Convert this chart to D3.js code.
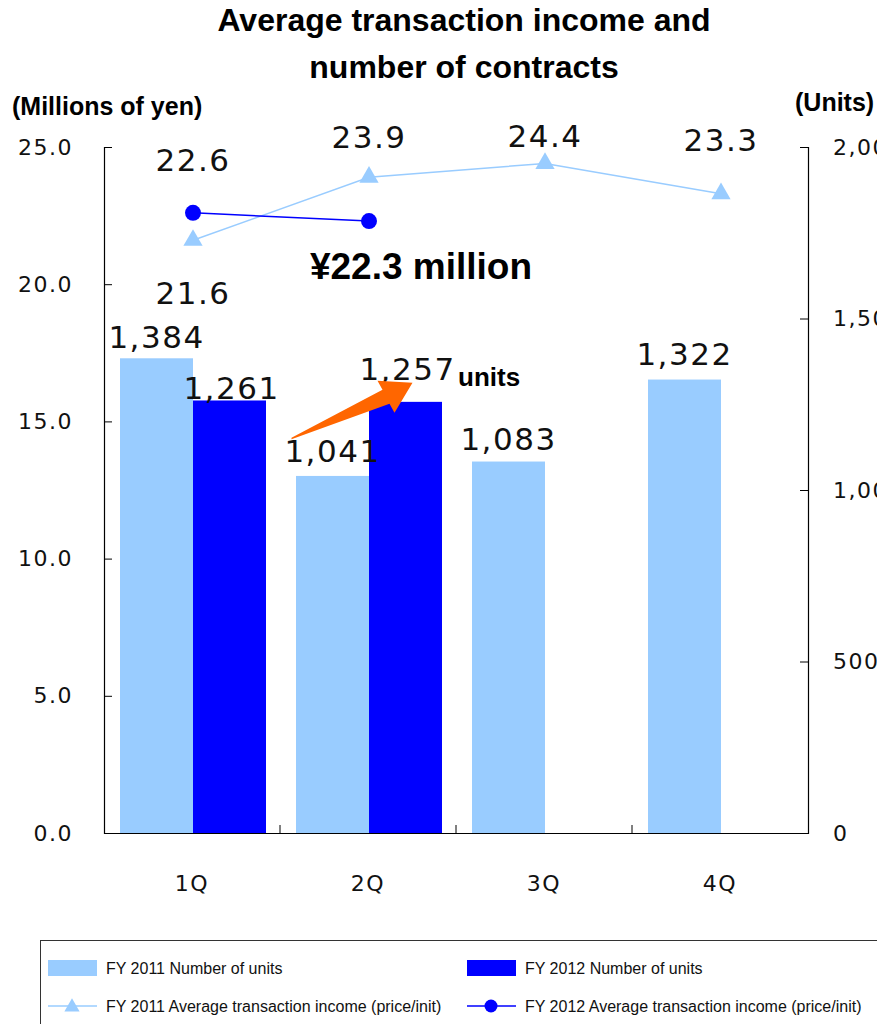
<!DOCTYPE html>
<html>
<head>
<meta charset="utf-8">
<script src="https://cdn.jsdelivr.net/npm/d3@7"></script>
<style>
  body { margin: 0; background: #fff; }
  svg { display: block; }
  .num { font-family: "DejaVu Sans", sans-serif; fill: #111; }
  .bold { font-family: "Liberation Sans", Arial, sans-serif; font-weight: bold; fill: #000; }
  .legend text { font-family: "Liberation Sans", Arial, sans-serif; font-size: 16px; fill: #111; }
</style>
</head>
<body>
<svg id="chart" width="877" height="1024"></svg>
<script>
// data
const quarters = ['1Q', '2Q', '3Q', '4Q'];
const units2011 = [1384, 1041, 1083, 1322];
const units2012 = [1261, 1257, null, null];
const income2011 = [21.6, 23.9, 24.4, 23.3];
const income2012 = [22.6, 22.3, null, null];
const leftTicks = [0, 5, 10, 15, 20, 25];
const rightTicks = [0, 500, 1000, 1500, 2000];

const light = '#99ccff';
const dark = '#0000ff';

const margin = { top: 147, right: 69, bottom: 191, left: 104 };
const width = 877 - margin.left - margin.right;
const height = 1024 - margin.top - margin.bottom;

const svg = d3.select('#chart');
const g = svg.append('g').attr('transform', `translate(${margin.left},${margin.top})`);

const x = d3.scaleBand().domain(quarters).range([0, width]);
const xSub = d3.scaleBand().domain(['2011', '2012']).range([16, 162]);
const yLeft = d3.scaleLinear().domain([0, 25]).range([height, 0]);
const yRight = d3.scaleLinear().domain([0, 2000]).range([height, 0]);
const midX = (q) => x(q) + xSub('2012');

// title
svg.append('text').attr('class', 'bold').attr('x', 464).attr('y', 31)
  .attr('text-anchor', 'middle').style('font-size', '32px').text('Average transaction income and');
svg.append('text').attr('class', 'bold').attr('x', 464).attr('y', 78)
  .attr('text-anchor', 'middle').style('font-size', '32px').text('number of contracts');
svg.append('text').attr('class', 'bold').attr('x', 12).attr('y', 115)
  .style('font-size', '25px').text('(Millions of yen)');
svg.append('text').attr('class', 'bold').attr('x', 795).attr('y', 111)
  .style('font-size', '25px').text('(Units)');

// bars
const bars = g.append('g');
quarters.forEach((q, i) => {
  [['2011', units2011[i], light], ['2012', units2012[i], dark]].forEach(([k, v, c]) => {
    if (v == null) return;
    bars.append('rect')
      .attr('x', x(q) + xSub(k))
      .attr('width', xSub.bandwidth())
      .attr('y', yRight(v))
      .attr('height', height - yRight(v))
      .attr('fill', c);
  });
});

// axes
const axL = g.append('g').call(d3.axisLeft(yLeft).tickValues(leftTicks).tickSize(-8).tickPadding(31).tickFormat(d3.format('.1f')));
const axR = g.append('g').attr('transform', `translate(${width},0)`)
  .call(d3.axisRight(yRight).tickValues(rightTicks).tickSize(-8).tickPadding(25).tickFormat(d3.format(',')));
const axB = g.append('g').attr('transform', `translate(0,${height})`)
  .call(d3.axisBottom(x).tickSize(0).tickPadding(42));
[axL, axR, axB].forEach(a => {
  a.select('.domain').attr('stroke', '#000').attr('stroke-width', 1.2);
  a.selectAll('text').attr('class', 'num').style('font-size', '22px').style('letter-spacing', '1.5px');
});
axB.selectAll('text').attr('dy', '0.71em');
// category separators
g.append('g').selectAll('line').data(quarters.slice(1)).join('line')
  .attr('x1', d => x(d)).attr('x2', d => x(d))
  .attr('y1', height).attr('y2', height - 8)
  .attr('stroke', '#000');

// lines
const line2011 = income2011.map((v, i) => ({ q: quarters[i], v }));
const line2012 = income2012.map((v, i) => ({ q: quarters[i], v })).filter(d => d.v != null);
const lineGen = d3.line().x(d => midX(d.q)).y(d => yLeft(d.v));

g.append('path').datum(line2011).attr('d', lineGen)
  .attr('fill', 'none').attr('stroke', light).attr('stroke-width', 1.5);
g.append('g').selectAll('path').data(line2011).join('path')
  .attr('d', d3.symbol(d3.symbolTriangle, 160))
  .attr('transform', d => `translate(${midX(d.q)},${yLeft(d.v)})`)
  .attr('fill', light);

g.append('path').datum(line2012).attr('d', lineGen)
  .attr('fill', 'none').attr('stroke', dark).attr('stroke-width', 1.5);
g.append('g').selectAll('circle').data(line2012).join('circle')
  .attr('cx', d => midX(d.q)).attr('cy', d => yLeft(d.v)).attr('r', 8)
  .attr('fill', dark);

// data labels
const labelStyle = (sel) => sel.attr('class', 'num').attr('text-anchor', 'middle')
  .style('font-size', '31px').style('letter-spacing', '1.5px');

const incomeDy2011 = [64, -29, -16, -43];
line2011.forEach((d, i) => {
  g.append('text').call(labelStyle)
    .attr('x', midX(d.q)).attr('y', yLeft(d.v) + incomeDy2011[i]).text(d3.format('.1f')(d.v));
});
g.append('text').call(labelStyle)
  .attr('x', midX(line2012[0].q)).attr('y', yLeft(line2012[0].v) - 42).text(d3.format('.1f')(line2012[0].v));

const unitDy2011 = [-10, -14, -12, -15];
const unitDy2012 = [-1, -22];
quarters.forEach((q, i) => {
  g.append('text').call(labelStyle)
    .attr('x', x(q) + xSub('2011') + xSub.bandwidth() / 2)
    .attr('y', yRight(units2011[i]) + unitDy2011[i]).text(d3.format(',')(units2011[i]));
  if (units2012[i] != null) {
    g.append('text').call(labelStyle)
      .attr('x', x(q) + xSub('2012') + xSub.bandwidth() / 2 + 2)
      .attr('y', yRight(units2012[i]) + unitDy2012[i]).text(d3.format(',')(units2012[i]));
  }
});

// annotations
g.append('text').attr('class', 'bold').attr('x', midX('2Q') + 52).attr('y', yLeft(22.3) + 58)
  .attr('text-anchor', 'middle').style('font-size', '37px').text('¥22.3 million');
g.append('text').attr('class', 'bold').attr('x', x('2Q') + xSub('2012') + xSub.bandwidth() + 16)
  .attr('y', yRight(units2012[1]) - 16).style('font-size', '26px').text('units');

// orange arrow from 1,041 toward 1,257
const tipX = x('2Q') + xSub('2012') + xSub.bandwidth() / 2 + 7;
const tipY = yRight(units2012[1]) - 19;
const arrow = [
  [-121, 55], [-30, 7], [-35, -2], [0, 0], [-18, 30], [-23, 21], [-121, 56.5]
].map(([dx, dy]) => [tipX + dx, tipY + dy]);
g.append('path').attr('d', d3.line()(arrow) + 'Z').attr('fill', '#ff6600');

// legend
const legend = svg.append('g').attr('class', 'legend');
legend.append('rect').attr('x', 40.5).attr('y', 940.5).attr('width', 900).attr('height', 120)
  .attr('fill', 'none').attr('stroke', '#333');
const items = [
  { label: 'FY 2011 Number of units', type: 'bar', color: light, x: 48, y: 968 },
  { label: 'FY 2012 Number of units', type: 'bar', color: dark, x: 467, y: 968 },
  { label: 'FY 2011 Average transaction income (price/init)', type: 'tri', color: light, x: 48, y: 1006 },
  { label: 'FY 2012 Average transaction income (price/init)', type: 'dot', color: dark, x: 467, y: 1006 }
];
items.forEach(it => {
  const row = legend.append('g').attr('transform', `translate(${it.x},${it.y})`);
  if (it.type === 'bar') {
    row.append('rect').attr('x', 0).attr('y', -8).attr('width', 49).attr('height', 16).attr('fill', it.color);
  } else {
    row.append('line').attr('x1', 0).attr('x2', 49).attr('y1', 0).attr('y2', 0)
      .attr('stroke', it.color).attr('stroke-width', 1.5);
    if (it.type === 'tri') {
      row.append('path').attr('d', d3.symbol(d3.symbolTriangle, 100)).attr('transform', 'translate(24,1)').attr('fill', it.color);
    } else {
      row.append('circle').attr('cx', 24).attr('cy', 0).attr('r', 6.5).attr('fill', it.color);
    }
  }
  row.append('text').attr('x', 58).attr('y', 6).text(it.label);
});
</script>
</body>
</html>
